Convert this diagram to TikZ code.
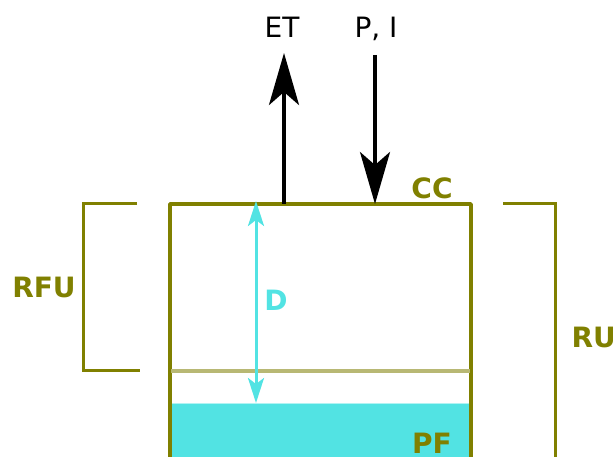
\documentclass[tikz,border=0pt]{standalone}
\usepackage{fontspec}
\setmainfont{DejaVu Sans}
\usetikzlibrary{arrows.meta,positioning}
\definecolor{soilolive}{RGB}{128,128,0}
\definecolor{soilline}{RGB}{184,184,116}
\definecolor{watercyan}{RGB}{82,227,227}

\begin{document}
\begin{tikzpicture}[x=1pt,y=-1pt,
  lbl/.style={font=\fontsize{28}{32}\selectfont, anchor=base},
  olbl/.style={font=\fontsize{28}{32}\selectfont\bfseries, text=soilolive, anchor=base},
  wall/.style={soilolive, line width=3.5pt, line join=round},
  bracket/.style={soilolive, line width=3pt},
  flux/.style={line width=3.5pt, -{Stealth[length=52pt,width=30pt,inset=13pt]}},
  depth/.style={watercyan, line width=3pt, {Stealth[length=25pt,width=16pt,inset=6pt]}-{Stealth[length=25pt,width=16pt,inset=6pt]}}]
\useasboundingbox (0,0) rectangle (613,457);
\clip (0,0) rectangle (613,457);

% water stored in the column
\fill[watercyan] (171,403) rectangle (470,470);
\draw[white!55!watercyan, line width=1pt] (171,403) -- (470,403);

% soil column
\coordinate (ccL) at (170,204);
\coordinate (ccR) at (471,204);
\draw[wall] (170,470) -- (ccL) -- (ccR) -- (471,470);
\draw[soilline, line width=3.5pt] (171,371) -- (470,371);

% fluxes at the surface
\node[lbl] (et) at (282,38) {ET};
\node[lbl] (pi) at (376,38) {P, I};
\coordinate (etfoot) at (284,204);
\coordinate (ettip) at (284,53);
\coordinate (pitop) at (375,55);
\coordinate (pifoot) at (375,204);
\draw[flux] (etfoot) -- (ettip);
\draw[flux] (pitop) -- (pifoot);

% depth of the readily available water
\coordinate (dtop) at (256,201);
\coordinate (dbot) at (256,403);
\draw[depth] (dtop) -- (dbot);
\node[olbl, text=watercyan] (d) at (276,310) {D};

% labels
\node[olbl] (cc) at (432,199) {CC};
\node[olbl] (pf) at (432,453) {PF};

% brackets
\coordinate (rfuA) at (137,204);
\coordinate (rfuB) at (83,204);
\coordinate (rfuC) at (83,370);
\coordinate (rfuD) at (140,370);
\draw[bracket] (rfuA) -- (rfuB) -- (rfuC) -- (rfuD);
\node[olbl] (rfu) at (44,297) {RFU};

\coordinate (ruA) at (503,204);
\coordinate (ruB) at (555,204);
\coordinate (ruC) at (555,470);
\draw[bracket] (ruA) -- (ruB) -- (ruC);
\node[olbl, anchor=base west] (ru) at (568,347) {RU};
\end{tikzpicture}
\end{document}
